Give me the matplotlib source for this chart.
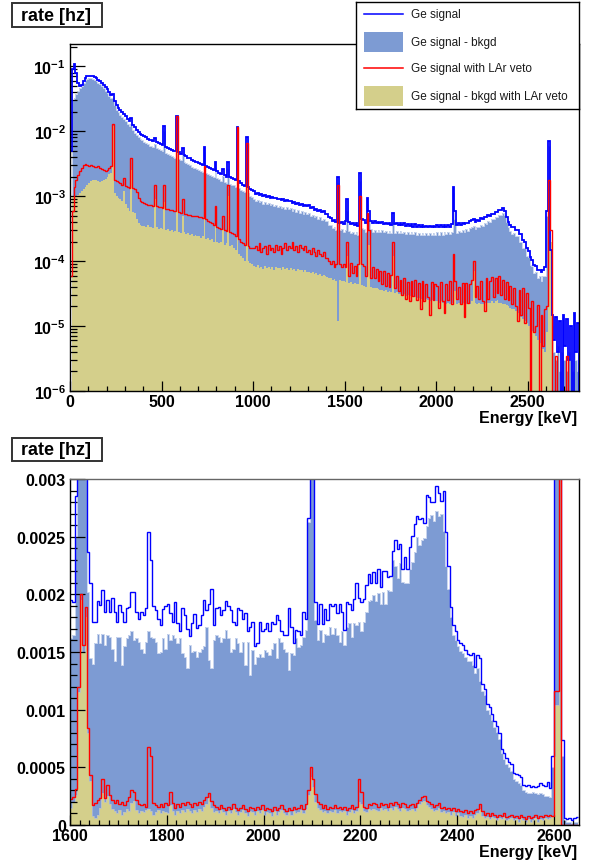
import numpy as np
import matplotlib
matplotlib.use('Agg')
import matplotlib.pyplot as plt
from matplotlib.patches import Rectangle
from matplotlib.lines import Line2D
from matplotlib.ticker import FixedLocator, FixedFormatter, MultipleLocator, LogLocator, NullFormatter

plt.rcParams['font.family'] = ['Liberation Sans', 'DejaVu Sans']
plt.rcParams['font.weight'] = 'bold'
plt.rcParams['mathtext.fontset'] = 'custom'
plt.rcParams['mathtext.bf'] = 'Liberation Sans:bold'
plt.rcParams['mathtext.rm'] = 'Liberation Sans'
plt.rcParams['mathtext.it'] = 'Liberation Sans:italic'

# ---------------- data ----------------
# top panel: 10 keV bins from 0 keV, rate per 1 keV bin, in units of 1e-5 Hz
TOP_E0, TOP_BIN, TOP_UNIT = 0, 10, 1e-5
TOP_SIGNAL = [
    500, 9000, 11000, 8000, 5500, 4900, 5200, 6000, 6600, 7000,
    7200, 7200, 7000, 6800, 6500, 6200, 5900, 5600, 5200, 4800,
    4400, 4000, 3600, 3800, 2900, 2500, 2300, 2100, 1950, 1850,
    1700, 1550, 1450, 1600, 1250, 1150, 1050, 980, 920, 880,
    830, 800, 770, 740, 720, 700, 780, 680, 650, 630,
    610, 1200, 580, 560, 540, 520, 500, 490, 1700, 470,
    450, 560, 430, 410, 390, 380, 360, 350, 340, 330,
    320, 310, 300, 580, 290, 280, 270, 260, 250, 340,
    240, 230, 220, 260, 210, 200, 330, 195, 190, 185,
    175, 1170, 170, 160, 150, 145, 800, 140, 130, 125,
    118, 108, 111, 104, 107, 100, 103, 98, 101, 95,
    97, 92, 95, 89, 91, 86, 90, 84, 87, 83,
    84, 79, 81, 76, 78, 73, 76, 71, 74, 70,
    72, 66, 68, 62, 64, 59, 62, 57, 59, 54,
    53, 47, 46, 42, 43, 40, 200, 39, 40, 37,
    41, 90, 40, 37, 39, 36, 38, 35, 230, 45,
    43, 39, 95, 60, 42, 39, 41, 38, 40, 38,
    40, 37, 39, 37, 39, 36, 55, 37, 39, 36,
    38, 36, 38, 35, 37, 35, 37, 34, 37, 34,
    36, 34, 36, 33, 35, 33, 35, 33, 35, 33,
    36, 34, 36, 34, 36, 34, 36, 34, 37, 140,
    60, 36, 38, 36, 39, 37, 39, 38, 41, 43,
    45, 40, 43, 42, 46, 45, 48, 47, 51, 50,
    54, 54, 58, 58, 62, 62, 65, 60, 48, 40,
    36, 33, 34, 30, 30, 26, 26, 21, 20, 16,
    14.5, 11.5, 10.5, 8.6, 8.4, 7.2, 7.4, 6.8, 7.3, 8,
    60, 700, 15, 1.5, 0.6, 1.4, 0.4, 1.2, 0, 1.5,
    0.5, 1.3, 0.3, 1.0, 0, 1.6, 0.4, 1.1, 0, 1.2,
]
TOP_SIGNAL_BKGD = [
    0, 3000, 3300, 3800, 4200, 4600, 5000, 5600, 6100, 6400,
    6600, 6600, 6400, 6200, 5900, 5600, 5300, 5000, 4600, 4200,
    3900, 3500, 3200, 3300, 2500, 2150, 1950, 1780, 1650, 1560,
    1430, 1300, 1210, 1300, 1040, 950, 870, 810, 760, 720,
    680, 650, 630, 600, 585, 570, 640, 550, 525, 510,
    490, 1000, 465, 450, 430, 415, 400, 390, 1450, 375,
    360, 450, 340, 325, 310, 300, 285, 275, 270, 262,
    255, 245, 238, 470, 230, 222, 214, 205, 198, 270,
    190, 182, 174, 205, 166, 158, 260, 154, 150, 146,
    138, 950, 134, 126, 118, 114, 640, 110, 102, 98,
    90, 84, 87, 81, 84, 77, 81, 75, 79, 73,
    76, 70, 73, 68, 71, 66, 69, 64, 67, 63,
    65, 60, 63, 58, 61, 56, 59, 54, 57, 53,
    55, 50, 52, 47, 49, 45, 47, 43, 45, 41,
    41, 36, 36, 32, 33, 30, 160, 30, 31, 28,
    30, 60, 29, 27, 28, 26, 28, 25, 170, 32,
    31, 28, 75, 45, 31, 28, 30, 28, 30, 28,
    30, 28, 29, 27, 29, 27, 40, 27, 29, 27,
    29, 27, 28, 26, 28, 26, 28, 26, 28, 25,
    27, 25, 27, 25, 27, 25, 27, 25, 27, 25,
    28, 25, 28, 25, 28, 26, 28, 26, 28, 110,
    45, 27, 29, 28, 30, 28, 31, 29, 32, 33,
    35, 31, 34, 33, 36, 35, 38, 37, 41, 40,
    44, 44, 48, 48, 52, 52, 56, 52, 40, 33,
    29, 26, 27, 24, 24, 20, 20, 16, 16, 12,
    11.5, 8.8, 8.5, 6.5, 6.8, 5.4, 6.0, 5.0, 5.8, 6,
    50, 600, 12, 1.0, 0.4, 0.3, 0.5, 0.2, 0.4, 0.3,
    0.3, 0.2, 0.4, 0.3, 0.2, 0.4, 0.3, 0.2, 0.3, 0.3,
]
TOP_VETO = [
    6, 60, 140, 180, 210, 240, 270, 300, 310, 300,
    290, 300, 290, 285, 280, 290, 270, 260, 250, 240,
    250, 270, 290, 1280, 180, 170, 165, 160, 150, 190,
    145, 140, 135, 390, 135, 130, 115, 95, 85, 80,
    78, 76, 74, 73, 72, 71, 150, 70, 69, 68,
    66, 150, 64, 63, 62, 61, 60, 59, 1700, 57,
    55, 90, 54, 53, 52, 51, 50, 50, 49, 49,
    48, 47, 46, 290, 44, 42, 40, 38, 36, 70,
    33, 32, 31, 50, 30, 29, 150, 28, 27, 26,
    24, 1170, 22, 20, 19, 18, 650, 17, 16, 16,
    16, 17, 15, 19, 14, 16, 17, 13, 18, 15,
    16, 14, 18, 15, 17, 13, 16, 19, 15, 17,
    16, 20, 15, 17, 14, 18, 16, 15, 17, 14,
    15, 13, 16, 14, 12, 15, 13, 12, 14, 11,
    11, 10, 9, 10, 8, 9, 150, 9, 8, 9,
    8, 20, 6, 9.5, 6.5, 8.5, 6, 9, 100, 9,
    8.5, 6, 55, 30, 5.5, 8, 5.5, 7.5, 5, 7,
    4.5, 7, 4.2, 6.5, 4.0, 6.2, 20, 3.8, 6, 3.5,
    5.2, 3.0, 5.5, 2.6, 4.8, 2.4, 5.0, 2.9, 5.2, 2.5,
    4.6, 1.8, 5.0, 2.4, 4.5, 2.8, 1.5, 4.8, 2.5, 4.4,
    4.2, 1.9, 4.8, 2.4, 1.6, 4.4, 2.5, 5.0, 2.2, 13,
    5, 2.6, 4.0, 2.2, 4.6, 1.4, 4.6, 2.3, 4.4, 5.2,
    10, 2.8, 4.2, 2.6, 5.0, 2.4, 1.7, 5.4, 2.6, 5.0,
    5.6, 2.8, 5.4, 3.2, 6.0, 3.0, 5.2, 2.6, 4.8, 2.5,
    4.2, 2.2, 3.8, 2.0, 1.2, 3.6, 1.5, 3.8, 1.1, 3.2,
    1.9, 0, 2.4, 0.8, 1.0, 2.1, 0, 1.5, 0.5, 1.8,
    2.0, 180, 30, 0, 0, 0.35, 0, 0, 0, 0,
    0, 0.35, 0, 0, 0, 0, 0, 0, 0, 0,
]
TOP_VETO_BKGD = [
    0, 100, 100, 100, 105, 110, 120, 130, 140, 150,
    160, 170, 175, 180, 175, 170, 165, 170, 175, 185,
    200, 220, 230, 1200, 110, 100, 95, 90, 85, 120,
    75, 65, 60, 250, 58, 56, 45, 38, 36, 35,
    35, 34, 36, 33, 34, 32, 90, 33, 31, 32,
    31, 80, 30, 31, 29, 30, 28, 29, 1500, 28,
    27, 50, 28, 26, 27, 25, 26, 24, 25, 24,
    24, 23, 24, 200, 22, 23, 21, 22, 20, 40,
    20, 19, 20, 30, 18, 19, 100, 17, 18, 16,
    15, 900, 13, 12, 11, 10, 450, 10, 9.5, 9,
    8.5, 8.0, 8.6, 7.8, 8.2, 7.5, 8.4, 7.9, 8.1, 7.6,
    8.0, 7.4, 8.2, 7.7, 7.9, 7.2, 8.0, 7.6, 7.8, 7.3,
    7.8, 7.4, 7.6, 7.0, 7.5, 7.2, 7.3, 6.9, 7.2, 6.8,
    6.9, 6.6, 6.8, 6.3, 6.5, 6.2, 6.3, 6.0, 6.1, 5.8,
    5.6, 5.4, 5.5, 5.2, 5.3, 5.0, 1.2, 5.1, 4.9, 5.0,
    4.8, 12, 4.6, 4.7, 4.5, 4.6, 4.4, 4.5, 60, 4.3,
    4.2, 4.0, 35, 18, 4.0, 3.9, 3.8, 3.9, 3.7, 3.6,
    3.6, 3.5, 3.6, 3.4, 3.5, 3.3, 12, 3.2, 3.3, 3.1,
    3.1, 3.0, 3.1, 2.9, 3.0, 2.9, 2.8, 2.9, 2.8, 2.7,
    2.7, 2.6, 2.7, 2.5, 2.6, 2.5, 2.4, 2.5, 2.4, 2.4,
    2.4, 2.3, 2.4, 2.3, 2.3, 2.2, 2.3, 2.2, 2.3, 9,
    3.5, 2.2, 2.3, 2.2, 2.3, 2.2, 2.2, 2.3, 2.2, 2.4,
    7, 2.3, 2.2, 2.3, 2.2, 2.2, 2.3, 2.4, 2.3, 2.3,
    2.4, 2.3, 2.4, 2.5, 2.3, 2.3, 2.2, 2.2, 2.1, 2.0,
    1.9, 1.8, 1.8, 1.7, 1.6, 1.5, 1.4, 1.3, 1.2, 1.1,
    1.0, 0.9, 0.85, 0.8, 0.7, 0.6, 0.55, 0.5, 0.45, 0.4,
    0.8, 120, 20, 0, 0, 0, 0, 0, 0, 0,
    0, 0, 0, 0, 0, 0, 0, 0, 0, 0,
]

# bottom panel: 5 keV bins from 1600 keV, in units of 1e-4 Hz
BOT_E0, BOT_BIN, BOT_UNIT = 1600, 5, 1e-4
BOT_SIGNAL = [
    19.5, 19.3, 28.5, 40, 60, 55, 35, 23.7, 21.0, 17.6,
    17.6, 19.4, 19.1, 20.4, 18.5, 19.5, 18.5, 19.7, 18.5, 17.6,
    19.1, 18.5, 17.6, 18.8, 18.9, 20.2, 20.2, 18.5, 17.9, 18.5,
    18.2, 18.8, 25.4, 23.0, 19.0, 18.6, 17.9, 17.3, 18.7, 19.0,
    19.2, 18.4, 17.6, 19.3, 17.5, 16.8, 18.8, 18.2, 17.0, 16.4,
    17.5, 18.3, 17.1, 17.3, 18.2, 19.5, 18.6, 19.2, 20.5, 17.3,
    18.8, 18.9, 18.2, 18.6, 19.4, 19.0, 18.6, 17.6, 17.3, 18.8,
    18.6, 17.9, 18.4, 16.8, 17.2, 17.6, 15.5, 15.8, 17.6, 16.8,
    17.0, 17.5, 16.8, 17.6, 17.4, 18.2, 17.8, 16.8, 16.5, 16.5,
    18.8, 17.2, 15.8, 16.9, 16.8, 16.5, 18.5, 17.9, 26.6, 60,
    45, 19.3, 17.4, 19.2, 17.4, 18.7, 17.8, 19.2, 19.0, 19.2,
    18.4, 19.2, 18.5, 16.9, 19.3, 19.2, 18.6, 19.6, 21.0, 19.7,
    19.3, 19.6, 20.8, 21.8, 21.0, 21.9, 21.0, 22.2, 20.6, 22.0,
    22.0, 21.5, 21.6, 23.8, 24.7, 23.9, 24.4, 22.2, 23.2, 22.2,
    24.1, 25.1, 26.1, 26.8, 26.5, 26.6, 26.2, 28.6, 28.4, 28.0,
    28.0, 29.4, 28.8, 28.1, 29.0, 25.4, 22.5, 18.9, 17.3, 16.8,
    16.0, 15.8, 15.6, 15.2, 14.8, 14.7, 14.9, 13.7, 14.7, 14.5,
    12.2, 11.8, 10.5, 10.2, 9.6, 9.0, 8.6, 8.0, 6.6, 6.2,
    5.8, 5.5, 5.3, 4.5, 4.4, 4.3, 4.2, 3.5, 3.4, 3.5,
    3.3, 3.4, 3.3, 3.4, 3.6, 3.5, 3.4, 3.7, 3.2, 6.0,
    80, 120, 70, 7.4, 0.6, 0.5, 0.6, 0.4, 0.6, 0.7,
]
BOT_SIGNAL_BKGD = [
    16.2, 16.5, 25, 40, 60, 55, 30, 20.2, 14.5, 14.0,
    15.8, 16.6, 15.8, 16.6, 15.6, 16.5, 16.3, 15.3, 14.2, 16.3,
    16.3, 13.9, 15.5, 16.2, 16.5, 16.8, 16.0, 16.2, 15.9, 15.3,
    14.9, 15.9, 16.8, 16.3, 16.2, 15.9, 14.9, 15.0, 16.2, 15.3,
    16.6, 16.0, 16.5, 16.2, 15.8, 16.2, 14.9, 14.6, 13.6, 15.6,
    15.0, 15.1, 14.6, 15.0, 15.3, 15.5, 17.2, 14.3, 13.6, 16.0,
    16.5, 16.3, 15.9, 16.2, 16.9, 16.2, 15.0, 15.3, 16.2, 15.8,
    15.0, 15.9, 13.9, 15.9, 13.0, 15.2, 14.0, 14.6, 14.8, 14.6,
    15.2, 15.0, 14.7, 15.3, 15.8, 14.5, 16.2, 15.9, 15.3, 15.0,
    13.4, 14.9, 14.7, 16.2, 15.4, 15.6, 16.3, 16.9, 26.3, 55,
    40, 17.8, 16.0, 16.9, 15.9, 16.6, 16.5, 17.2, 16.6, 17.1,
    16.5, 15.9, 16.8, 15.6, 17.2, 17.5, 16.3, 17.5, 17.3, 17.6,
    16.8, 17.6, 18.5, 19.4, 19.5, 19.9, 19.4, 20.1, 19.2, 20.2,
    19.2, 20.4, 20.3, 23.0, 22.5, 21.4, 22.7, 21.1, 21.0, 21.0,
    22.2, 22.8, 23.7, 25.0, 24.3, 24.7, 24.9, 25.9, 26.6, 26.9,
    26.4, 27.2, 26.8, 27.0, 25.5, 22.5, 20.5, 18.0, 16.5, 16.0,
    15.5, 15.1, 14.9, 14.6, 14.2, 14.2, 13.9, 13.2, 13.6, 12.5,
    11.6, 11.3, 10.0, 9.6, 9.1, 8.5, 8.1, 7.5, 6.2, 5.7,
    5.3, 5.0, 4.7, 4.0, 3.8, 3.6, 3.5, 3.0, 2.9, 2.8,
    2.8, 2.9, 2.8, 2.7, 2.8, 2.7, 2.5, 2.5, 2.4, 5.0,
    70, 110, 60, 6.0, 0.4, 0.3, 0.3, 0.2, 0.3, 0.3,
]
BOT_VETO = [
    2.25, 2.4, 3.1, 12, 20.0, 15.6, 18.9, 8.4, 4.3, 1.7,
    1.9, 2.2, 2.3, 4.0, 2.3, 3.5, 2.6, 2.2, 1.9, 2.2,
    1.8, 2.0, 1.7, 2.1, 2.4, 3.0, 2.9, 2.2, 1.8, 1.7,
    1.8, 1.6, 6.8, 6.0, 1.9, 1.7, 1.6, 1.8, 1.6, 1.9,
    1.7, 2.9, 1.9, 1.5, 1.8, 1.6, 1.9, 1.7, 2.0, 1.8,
    1.6, 1.9, 1.7, 2.0, 1.8, 2.2, 2.4, 2.8, 2.1, 1.7,
    1.6, 1.4, 1.7, 1.5, 1.3, 1.6, 1.4, 1.8, 1.5, 1.3,
    1.5, 1.7, 1.4, 1.2, 1.6, 1.5, 1.3, 1.6, 1.4, 1.7,
    1.3, 1.5, 1.4, 1.2, 1.6, 1.3, 1.5, 1.7, 1.4, 1.2,
    1.5, 1.3, 1.6, 1.4, 1.5, 1.7, 1.4, 1.8, 3.0, 5.0,
    4.0, 2.7, 2.0, 1.8, 1.5, 1.7, 1.4, 1.6, 1.5, 1.7,
    1.5, 1.6, 1.4, 1.6, 1.3, 1.5, 1.7, 1.4, 1.6, 4.0,
    2.9, 1.6, 1.5, 1.8, 1.7, 1.9, 1.8, 1.6, 1.9, 1.7,
    1.8, 1.6, 1.9, 1.7, 2.0, 1.8, 1.6, 1.9, 1.8, 1.6,
    1.7, 1.8, 1.6, 1.9, 2.2, 2.4, 2.5, 2.1, 2.0, 1.8,
    1.6, 1.7, 1.9, 1.5, 1.6, 1.4, 1.5, 1.3, 1.5, 1.2,
    1.4, 1.2, 1.1, 1.3, 1.0, 1.2, 1.0, 1.3, 1.4, 1.8,
    1.2, 0.9, 1.0, 0.8, 1.0, 0.9, 0.7, 0.9, 0.8, 1.0,
    0.7, 0.8, 0.9, 0.7, 0.8, 0.6, 0.9, 0.7, 0.5, 0.8,
    0.6, 0.7, 0.9, 0.6, 0.8, 0.7, 0.9, 0.8, 0.9, 0.8,
    11.6, 11.6, 100, 0, 0, 0, 0, 0, 0, 0,
]
BOT_VETO_BKGD = [
    1.5, 2.0, 2.6, 11.5, 19.5, 15.0, 18.0, 8.0, 3.8, 0.8,
    0.6, 0.9, 1.5, 2.8, 2.0, 2.5, 1.8, 1.4, 1.2, 1.0,
    1.3, 0.9, 1.1, 1.4, 1.2, 1.9, 2.1, 1.3, 1.0, 1.2,
    1.1, 1.3, 1.4, 1.2, 0.9, 1.1, 1.3, 1.0, 1.2, 1.1,
    1.0, 1.7, 1.2, 0.9, 1.2, 1.0, 1.3, 1.1, 1.4, 1.2,
    1.0, 1.3, 1.1, 1.4, 1.2, 1.6, 1.8, 2.3, 1.5, 1.1,
    1.2, 1.0, 1.3, 1.1, 0.9, 1.2, 1.0, 1.4, 1.1, 0.9,
    1.1, 1.3, 1.0, 0.8, 1.2, 1.1, 0.9, 1.2, 1.0, 1.3,
    0.9, 1.1, 1.0, 0.8, 1.2, 0.9, 1.1, 1.3, 1.0, 0.9,
    1.1, 0.9, 1.2, 1.0, 1.1, 1.3, 1.0, 1.4, 2.6, 4.2,
    3.3, 2.0, 1.5, 1.3, 1.1, 1.2, 1.0, 1.2, 1.1, 1.3,
    1.0, 1.2, 1.1, 1.2, 0.9, 1.1, 1.3, 1.0, 1.2, 2.0,
    1.8, 1.2, 1.1, 1.4, 1.3, 1.4, 1.3, 1.2, 1.5, 1.3,
    1.4, 1.2, 1.5, 1.3, 1.6, 1.4, 1.2, 1.5, 1.4, 1.2,
    1.3, 1.4, 1.2, 1.5, 1.8, 2.0, 2.1, 1.7, 1.6, 1.4,
    1.2, 1.3, 1.5, 1.1, 1.2, 1.0, 1.1, 0.9, 1.1, 0.8,
    1.0, 0.8, 0.7, 0.9, 0.6, 0.8, 0.6, 0.9, 1.0, 1.4,
    0.8, 0.6, 0.7, 0.5, 0.7, 0.6, 0.4, 0.6, 0.5, 0.7,
    0.4, 0.5, 0.6, 0.4, 0.5, 0.3, 0.6, 0.4, 0.3, 0.5,
    0.3, 0.4, 0.6, 0.3, 0.5, 0.4, 0.6, 0.5, 0.6, 0.8,
    10.4, 10.4, 90, 0, 0, 0, 0, 0, 0, 0,
]

LEGEND_LABELS = ['Ge signal', 'Ge signal - bkgd', 'Ge signal with LAr veto',
                 'Ge signal - bkgd with LAr veto']
TOP_YTICKS = [1e-6, 1e-5, 1e-4, 1e-3, 1e-2, 1e-1]
TOP_YLABELS = [r'$\mathbf{10^{-6}}$', r'$\mathbf{10^{-5}}$', r'$\mathbf{10^{-4}}$',
               r'$\mathbf{10^{-3}}$', r'$\mathbf{10^{-2}}$', r'$\mathbf{10^{-1}}$']
BOT_YTICKS = [0, 0.0005, 0.001, 0.0015, 0.002, 0.0025, 0.003]
BOT_YLABELS = ['0', '0.0005', '0.001', '0.0015', '0.002', '0.0025', '0.003']

# ---------------- style ----------------
C_LINE = '#0000ff'
C_FILL = '#7d9bd3'
C_EDGE = '#cbd6ee'
C_RED = '#ff0000'
C_KHAKI = '#d4cf8b'
C_KEDGE = '#b4bdd6'

W, H = 591, 862
fig = plt.figure(figsize=(W / 100, H / 100), dpi=100)


def fx(px):
    return px / W


def fy(py):
    return 1 - py / H


ax1 = fig.add_axes([fx(70), fy(392), (579 - 70) / W, (392 - 45) / H])
ax2 = fig.add_axes([fx(70), fy(826), (579 - 70) / W, (826 - 480) / H])


def draw(ax, e0, width, unit, sig, sub, veto, vsub, floor, lw_line, lw_red, kedge):
    edges = e0 + width * np.arange(len(sig) + 1)

    def arr(v):
        a = np.asarray(v, float) * unit
        return np.where(a > 0, a, floor)

    ax.stairs(arr(sub), edges, fill=True, color=C_FILL, baseline=floor, lw=0, zorder=1)
    ax.stairs(arr(sub), edges, color=C_EDGE, lw=0.7, baseline=None, zorder=1.1)
    ax.stairs(arr(vsub), edges, fill=True, color=C_KHAKI, baseline=floor, lw=0, zorder=1.2)
    if kedge:
        ax.stairs(arr(vsub), edges, color=C_KEDGE, lw=0.5, baseline=None, zorder=1.3)
    ax.stairs(arr(sig), edges, color=C_LINE, lw=lw_line, baseline=None, zorder=2)
    ax.stairs(arr(veto), edges, color=C_RED, lw=lw_red, baseline=None, zorder=2.1)


draw(ax1, TOP_E0, TOP_BIN, TOP_UNIT, TOP_SIGNAL, TOP_SIGNAL_BKGD, TOP_VETO,
     TOP_VETO_BKGD, 1e-9, 1.3, 1.0, False)
draw(ax2, BOT_E0, BOT_BIN, BOT_UNIT, BOT_SIGNAL, BOT_SIGNAL_BKGD, BOT_VETO,
     BOT_VETO_BKGD, 0.0, 1.0, 1.0, True)

# top axes
ax1.set_yscale('log')
ax1.set_ylim(1e-6, 0.22)
ax1.set_xlim(0, 2780)
ax1.yaxis.set_major_locator(FixedLocator(TOP_YTICKS))
ax1.yaxis.set_major_formatter(FixedFormatter(TOP_YLABELS))
ax1.yaxis.set_minor_locator(LogLocator(base=10, subs=np.arange(2, 10)))
ax1.yaxis.set_minor_formatter(NullFormatter())
ax1.xaxis.set_major_locator(MultipleLocator(500))
ax1.xaxis.set_minor_locator(MultipleLocator(100))

# bottom axes
ax2.set_ylim(0, 0.003)
ax2.set_xlim(1600, 2652)
ax2.yaxis.set_major_locator(FixedLocator(BOT_YTICKS))
ax2.yaxis.set_major_formatter(FixedFormatter(BOT_YLABELS))
ax2.yaxis.set_minor_locator(MultipleLocator(0.0001))
ax2.xaxis.set_major_locator(MultipleLocator(200))
ax2.xaxis.set_minor_locator(MultipleLocator(20))

for ax in (ax1, ax2):
    ax.tick_params(which='both', direction='in', top=False, right=False,
                   labelsize=11.5, width=0.9, color='black')
    ax.tick_params(axis='y', which='major', length=10.8, pad=3)
    ax.tick_params(axis='y', which='minor', length=5.2)
    ax.tick_params(axis='x', which='major', length=7.5, pad=2.5)
    ax.tick_params(axis='x', which='minor', length=3.8)
    for lbl in ax.get_xticklabels() + ax.get_yticklabels():
        lbl.set_fontweight('bold')
    for s in ax.spines.values():
        s.set_linewidth(1.0)
        s.set_color('black')
        s.set_zorder(3)
ax2.spines['top'].set_color('#666666')

# axis titles
for yc in (419, 853):
    fig.text(fx(577), fy(yc), 'Energy [keV]', ha='right', va='center',
             fontsize=11.5, fontweight='bold')
for top, bot in ((4, 28), (439, 462)):
    fig.add_artist(Rectangle((fx(12), fy(bot)), 90 / W, (bot - top) / H,
                             transform=fig.transFigure, facecolor='white',
                             edgecolor='#333333', lw=1.4))
    fig.text(fx(56), fy((top + bot) / 2 + 0.5), 'rate [hz]', ha='center', va='center',
             fontsize=13, fontweight='bold')

# legend box
axL = fig.add_axes([fx(356), fy(110), 223 / W, 107 / H])
axL.set_zorder(10)
axL.set_xlim(0, 223)
axL.set_ylim(107, 0)
axL.set_xticks([])
axL.set_yticks([])
axL.set_facecolor('white')
for s in axL.spines.values():
    s.set_linewidth(1.0)
    s.set_color('black')
rows = [12, 40, 66, 94]
axL.add_line(Line2D([8, 47], [rows[0], rows[0]], color=C_LINE, lw=1.1))
axL.add_patch(Rectangle((8, rows[1] - 10), 39, 20, color=C_FILL, lw=0))
axL.add_line(Line2D([8, 47], [rows[2], rows[2]], color=C_RED, lw=1.1))
axL.add_patch(Rectangle((8, rows[3] - 10), 39, 20, color=C_KHAKI, lw=0))
for r, lab in zip(rows, LEGEND_LABELS):
    axL.text(55, r, lab, ha='left', va='center', fontsize=8.5,
             fontweight='normal', color='#1a1a1a')

fig.savefig('out.png', dpi=100)
